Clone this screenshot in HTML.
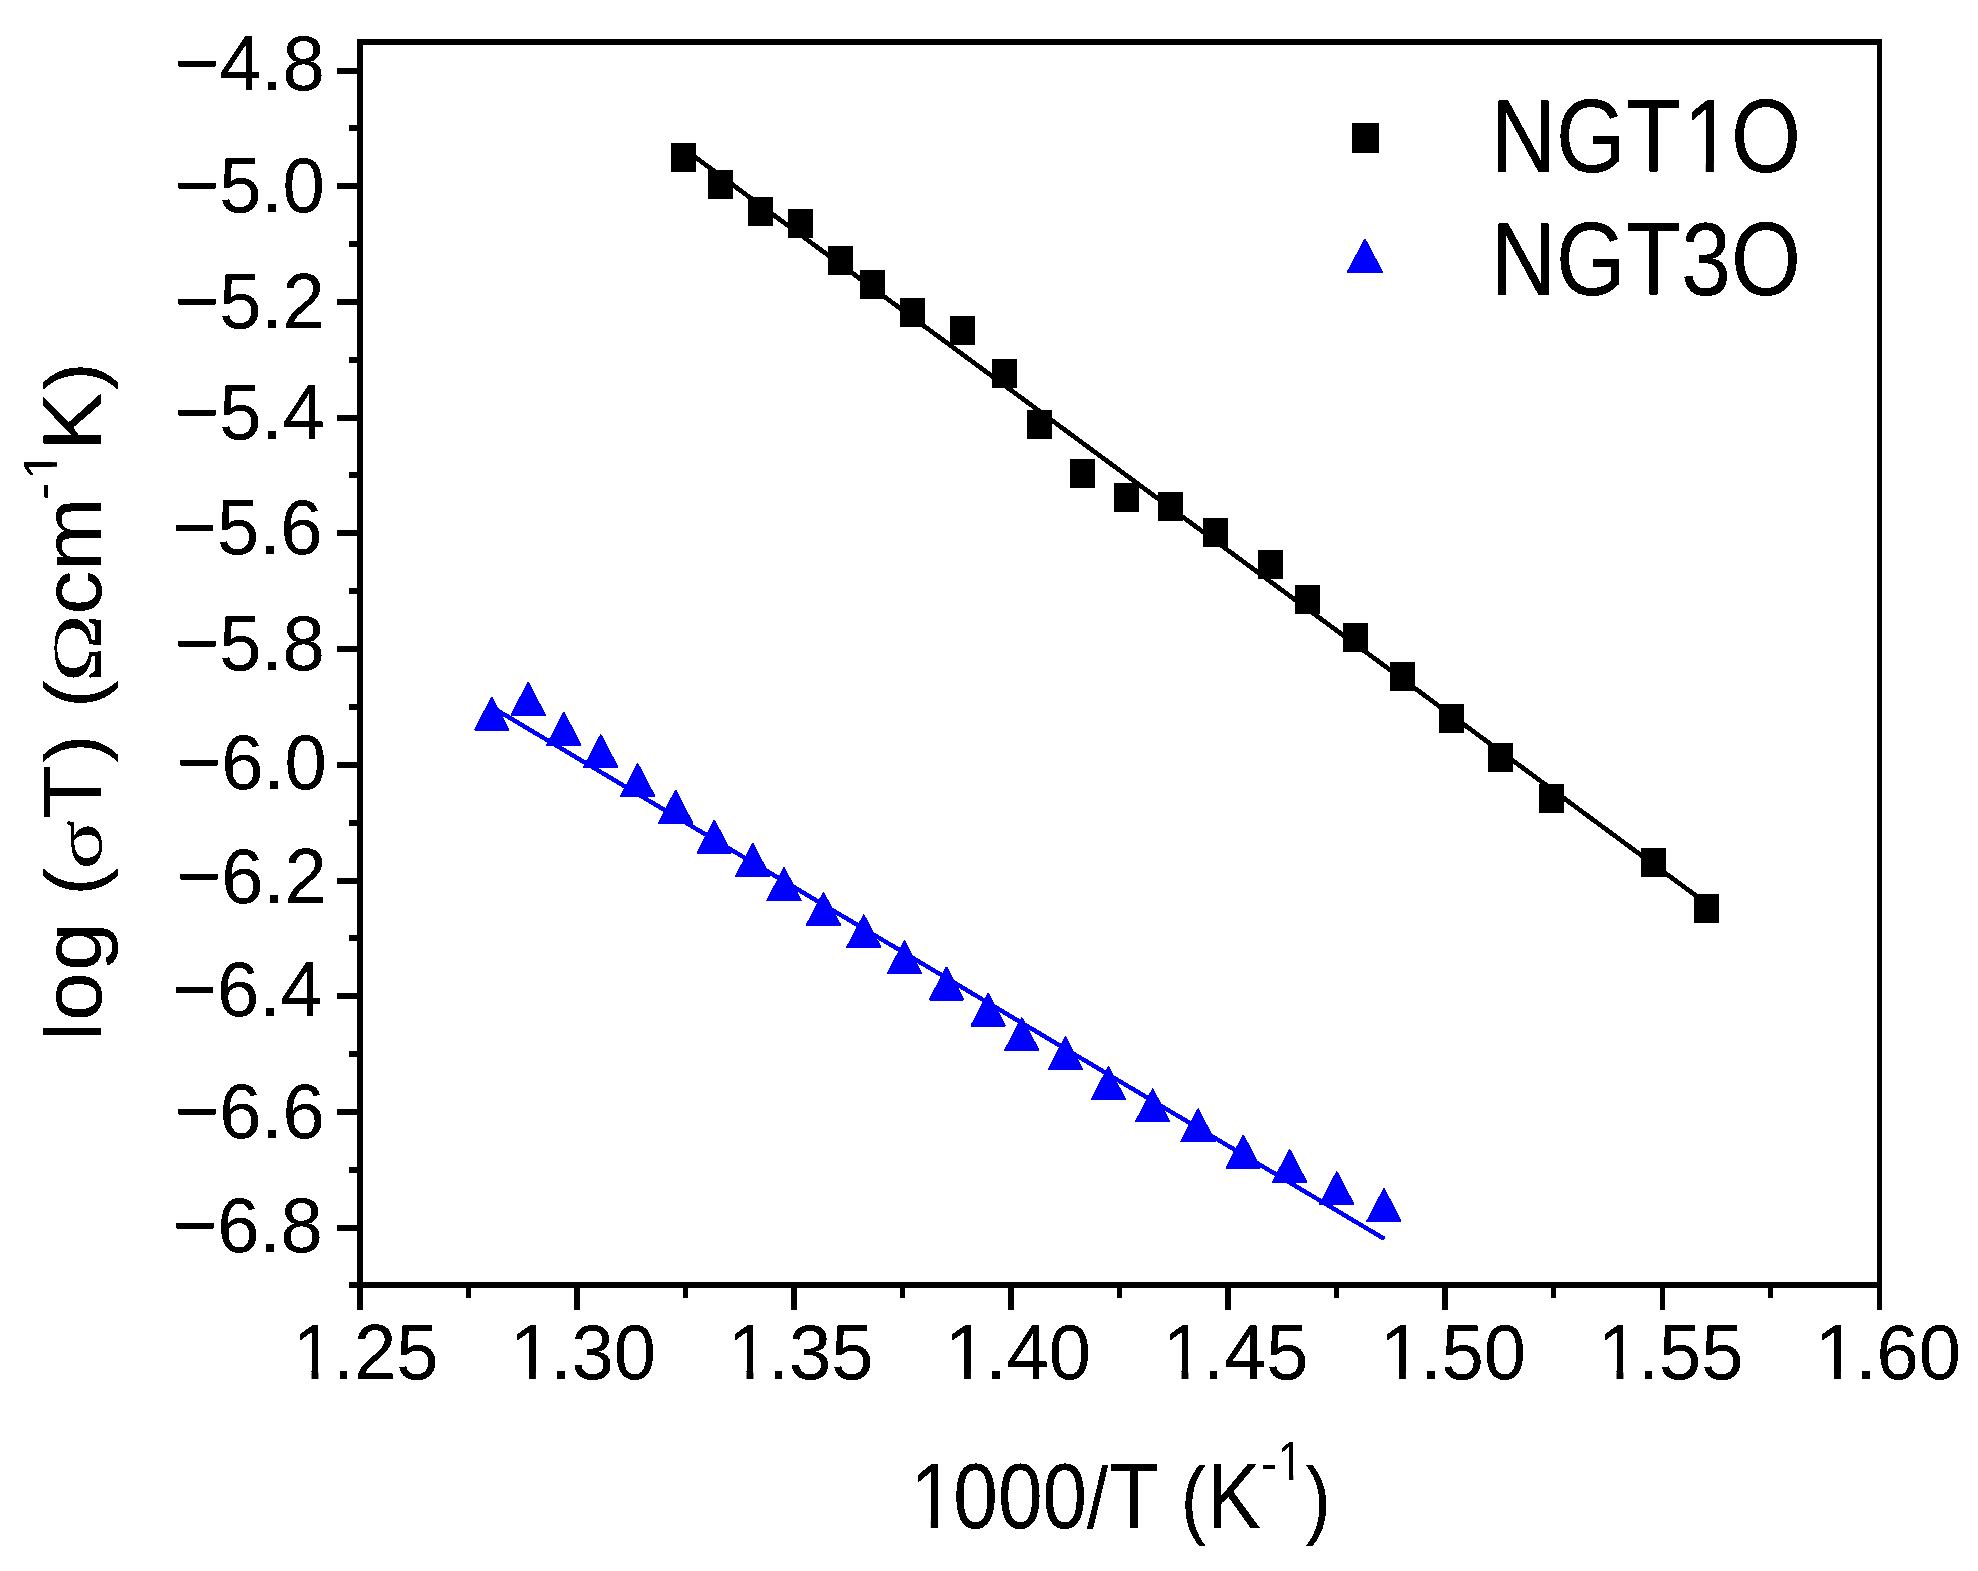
<!DOCTYPE html>
<html lang="en">
<head>
<meta charset="utf-8">
<title>log (σT) vs 1000/T</title>
<style>
html,body{margin:0;padding:0;background:#fff;}
body{width:1978px;height:1571px;overflow:hidden;}
svg{display:block;}
text{white-space:pre;font-kerning:none;font-size:100px;fill:#000;}
svg{font-family:"Liberation Sans", sans-serif;}
</style>
</head>
<body>
<svg width="1978" height="1571" viewBox="0 0 1978 1571">
<defs><g id="nofoot" fill="#fff"><rect x="5" y="-9" width="20.05" height="11"/><rect x="34.1" y="-9" width="19" height="11"/></g><filter id="crisp" filterUnits="userSpaceOnUse" x="0" y="0" width="1978" height="1571" color-interpolation-filters="sRGB"><feComponentTransfer><feFuncA type="discrete" tableValues="0 0 1 1 1"/></feComponentTransfer></filter></defs>
<rect x="0" y="0" width="1978" height="1571" fill="#fff"/>
<g fill="#000" shape-rendering="crispEdges">
<rect x="357" y="39" width="6" height="1249"/>
<rect x="1877" y="39" width="5" height="1249"/>
<rect x="357" y="39" width="1525" height="6"/>
<rect x="357" y="1282" width="1525" height="6"/>
<rect x="337" y="68" width="20" height="6"/>
<rect x="337" y="183" width="20" height="6"/>
<rect x="337" y="299" width="20" height="6"/>
<rect x="337" y="415" width="20" height="6"/>
<rect x="337" y="530" width="20" height="6"/>
<rect x="337" y="646" width="20" height="6"/>
<rect x="337" y="762" width="20" height="6"/>
<rect x="337" y="878" width="20" height="6"/>
<rect x="337" y="993" width="20" height="6"/>
<rect x="337" y="1109" width="20" height="6"/>
<rect x="337" y="1225" width="20" height="6"/>
<rect x="349" y="125" width="8" height="6"/>
<rect x="349" y="241" width="8" height="6"/>
<rect x="349" y="357" width="8" height="6"/>
<rect x="349" y="472" width="8" height="6"/>
<rect x="349" y="588" width="8" height="6"/>
<rect x="349" y="704" width="8" height="6"/>
<rect x="349" y="820" width="8" height="6"/>
<rect x="349" y="935" width="8" height="6"/>
<rect x="349" y="1051" width="8" height="6"/>
<rect x="349" y="1167" width="8" height="6"/>
<rect x="349" y="1282" width="8" height="6"/>
<rect x="357" y="1288" width="6" height="22"/>
<rect x="466" y="1288" width="5" height="10"/>
<rect x="574" y="1288" width="6" height="22"/>
<rect x="683" y="1288" width="5" height="10"/>
<rect x="791" y="1288" width="6" height="22"/>
<rect x="900" y="1288" width="5" height="10"/>
<rect x="1008" y="1288" width="6" height="22"/>
<rect x="1117" y="1288" width="5" height="10"/>
<rect x="1225" y="1288" width="6" height="22"/>
<rect x="1334" y="1288" width="5" height="10"/>
<rect x="1442" y="1288" width="6" height="22"/>
<rect x="1551" y="1288" width="5" height="10"/>
<rect x="1660" y="1288" width="5" height="22"/>
<rect x="1768" y="1288" width="5" height="10"/>
<rect x="1877" y="1288" width="5" height="22"/>
</g>
<line x1="683.4" y1="148.4" x2="1706" y2="903.1" stroke="#000" stroke-width="4.7" shape-rendering="crispEdges"/>
<line x1="491.8" y1="707.1" x2="1384.3" y2="1238.9" stroke="#00f" stroke-width="4.4" shape-rendering="crispEdges"/>
<g fill="#000" shape-rendering="crispEdges">
<rect x="671" y="143" width="25" height="29"/>
<rect x="708" y="170" width="25" height="29"/>
<rect x="748" y="197" width="25" height="29"/>
<rect x="788" y="209" width="25" height="29"/>
<rect x="828" y="246" width="25" height="29"/>
<rect x="860" y="270" width="25" height="29"/>
<rect x="900" y="298" width="25" height="29"/>
<rect x="950" y="316" width="25" height="29"/>
<rect x="992" y="359" width="25" height="29"/>
<rect x="1027" y="410" width="25" height="29"/>
<rect x="1070" y="459" width="25" height="29"/>
<rect x="1114" y="483" width="25" height="29"/>
<rect x="1158" y="492" width="25" height="29"/>
<rect x="1203" y="518" width="25" height="29"/>
<rect x="1258" y="550" width="25" height="29"/>
<rect x="1295" y="585" width="25" height="29"/>
<rect x="1343" y="623" width="25" height="29"/>
<rect x="1390" y="662" width="25" height="29"/>
<rect x="1439" y="704" width="25" height="29"/>
<rect x="1488" y="743" width="25" height="29"/>
<rect x="1539" y="784" width="25" height="29"/>
<rect x="1641" y="848" width="25" height="29"/>
<rect x="1694" y="894" width="25" height="29"/>
<rect x="1352" y="123" width="27" height="30"/>
</g>
<g fill="#00f" stroke="#00f" stroke-width="2" stroke-linejoin="round" shape-rendering="crispEdges">
<polygon points="491.8,697.7 475.15,729.65 508.45,729.65"/>
<polygon points="528.2,683 511.55,714.95 544.85,714.95"/>
<polygon points="563.9,713 547.25,744.95 580.55,744.95"/>
<polygon points="600.8,735.2 584.15,767.15 617.45,767.15"/>
<polygon points="637.7,764.2 621.05,796.15 654.35,796.15"/>
<polygon points="675.6,790.9 658.95,822.85 692.25,822.85"/>
<polygon points="714.3,820.7 697.65,852.65 730.95,852.65"/>
<polygon points="752.8,844.1 736.15,876.05 769.45,876.05"/>
<polygon points="784.1,868.3 767.45,900.25 800.75,900.25"/>
<polygon points="823.5,893 806.85,924.95 840.15,924.95"/>
<polygon points="863.8,915.4 847.15,947.35 880.45,947.35"/>
<polygon points="904.5,941.4 887.85,973.35 921.15,973.35"/>
<polygon points="946.5,967.6 929.85,999.55 963.15,999.55"/>
<polygon points="988.2,993.6 971.55,1025.55 1004.85,1025.55"/>
<polygon points="1021.8,1018.3 1005.15,1050.25 1038.45,1050.25"/>
<polygon points="1065.4,1037.3 1048.75,1069.25 1082.05,1069.25"/>
<polygon points="1108.4,1067.4 1091.75,1099.35 1125.05,1099.35"/>
<polygon points="1152.7,1089.5 1136.05,1121.45 1169.35,1121.45"/>
<polygon points="1198,1109.4 1181.35,1141.35 1214.65,1141.35"/>
<polygon points="1243.3,1135.6 1226.65,1167.55 1259.95,1167.55"/>
<polygon points="1289.7,1150.1 1273.05,1182.05 1306.35,1182.05"/>
<polygon points="1336.8,1172.3 1320.15,1204.25 1353.45,1204.25"/>
<polygon points="1384,1189.1 1367.35,1221.05 1400.65,1221.05"/>
<polygon points="1365,239.8 1347.9,271.9 1382,271.9"/>
</g>
<g filter="url(#crisp)">
<text transform="translate(174.77,90) scale(0.7600,0.7860)"><tspan x="0">−4.8</tspan></text>
<text transform="translate(174.77,212.1) scale(0.7600,0.7860)"><tspan x="0">−5.0</tspan></text>
<text transform="translate(174.87,327.9) scale(0.7600,0.7860)"><tspan x="0">−5.2</tspan></text>
<text transform="translate(174.87,439) scale(0.7600,0.7860)"><tspan x="0">−5.4</tspan></text>
<text transform="translate(172.57,553.8) scale(0.7600,0.7860)"><tspan x="0">−5.6</tspan></text>
<text transform="translate(174.87,669.7) scale(0.7600,0.7860)"><tspan x="0">−5.8</tspan></text>
<text transform="translate(176.87,788.7) scale(0.7600,0.7860)"><tspan x="0">−6.0</tspan></text>
<text transform="translate(176.87,902.8) scale(0.7600,0.7860)"><tspan x="0">−6.2</tspan></text>
<text transform="translate(172.57,1015.6) scale(0.7600,0.7860)"><tspan x="0">−6.4</tspan></text>
<text transform="translate(174.87,1137.8) scale(0.7600,0.7860)"><tspan x="0">−6.6</tspan></text>
<text transform="translate(172.77,1252) scale(0.7600,0.7860)"><tspan x="0">−6.8</tspan></text>
<text transform="translate(290.6,1379) scale(0.7600,0.7860)"><tspan x="2.5">1</tspan><tspan x="55.62">.25</tspan></text>
<use href="#nofoot" transform="translate(290.6,1379) scale(0.7600,0.7860) translate(2.5,0) scale(1)"/>
<text transform="translate(508.1,1379) scale(0.7600,0.7860)"><tspan x="2.5">1</tspan><tspan x="55.62">.30</tspan></text>
<use href="#nofoot" transform="translate(508.1,1379) scale(0.7600,0.7860) translate(2.5,0) scale(1)"/>
<text transform="translate(725.6,1379) scale(0.7600,0.7860)"><tspan x="2.5">1</tspan><tspan x="55.62">.35</tspan></text>
<use href="#nofoot" transform="translate(725.6,1379) scale(0.7600,0.7860) translate(2.5,0) scale(1)"/>
<text transform="translate(943.1,1379) scale(0.7600,0.7860)"><tspan x="2.5">1</tspan><tspan x="55.62">.40</tspan></text>
<use href="#nofoot" transform="translate(943.1,1379) scale(0.7600,0.7860) translate(2.5,0) scale(1)"/>
<text transform="translate(1160.6,1379) scale(0.7600,0.7860)"><tspan x="2.5">1</tspan><tspan x="55.62">.45</tspan></text>
<use href="#nofoot" transform="translate(1160.6,1379) scale(0.7600,0.7860) translate(2.5,0) scale(1)"/>
<text transform="translate(1378.1,1379) scale(0.7600,0.7860)"><tspan x="2.5">1</tspan><tspan x="55.62">.50</tspan></text>
<use href="#nofoot" transform="translate(1378.1,1379) scale(0.7600,0.7860) translate(2.5,0) scale(1)"/>
<text transform="translate(1595.6,1379) scale(0.7600,0.7860)"><tspan x="2.5">1</tspan><tspan x="55.62">.55</tspan></text>
<use href="#nofoot" transform="translate(1595.6,1379) scale(0.7600,0.7860) translate(2.5,0) scale(1)"/>
<text transform="translate(1813.1,1379) scale(0.7600,0.7860)"><tspan x="2.5">1</tspan><tspan x="55.62">.60</tspan></text>
<use href="#nofoot" transform="translate(1813.1,1379) scale(0.7600,0.7860) translate(2.5,0) scale(1)"/>
<text transform="translate(1491,172) scale(0.9000,1.0450)"><tspan x="0">NGT</tspan><tspan x="213.58">1</tspan><tspan x="266.7">O</tspan></text>
<use href="#nofoot" transform="translate(1491,172) scale(0.9000,1.0450) translate(213.58,0) scale(1)"/>
<text transform="translate(1491,294.9) scale(0.9000,1.0450)"><tspan x="0">NGT3O</tspan></text>
<text transform="translate(908.7,1527.8) scale(0.8020,0.9270)"><tspan x="2.5" y="0">1</tspan><tspan x="55.62" y="0">000</tspan><tspan x="222.46" y="0" font-size="94.93">/</tspan><tspan x="250.25" y="0">T </tspan><tspan x="339.11" y="0" font-size="94.93">(</tspan><tspan x="372.41" y="0">K</tspan><tspan x="439.15" y="-49.73" font-size="59.12">-</tspan><tspan x="459.43" y="-51.78" font-size="59.12">1</tspan><tspan x="494.68" y="0" font-size="94.93">)</tspan></text>
<use href="#nofoot" transform="translate(908.7,1527.8) scale(0.8020,0.9270) translate(2.5,0) scale(1)"/>
<use href="#nofoot" transform="translate(908.7,1527.8) scale(0.8020,0.9270) translate(459.43,-51.78) scale(0.59)"/>
<text transform="translate(100.7,1040.9) rotate(-90) scale(0.8760,0.8300)"><tspan x="0" y="0" font-size="95.78">l</tspan><tspan x="22.63" y="0">o</tspan><tspan x="79.71" y="0">g </tspan><tspan x="165.84" y="0" font-size="95.78">(</tspan><tspan x="195.55" y="0" font-size="79.47" font-family='"Liberation Serif", serif' textLength="56.6" lengthAdjust="spacingAndGlyphs">σ</tspan><tspan x="253.46" y="0">T</tspan><tspan x="317.91" y="0" font-size="95.78">) </tspan><tspan x="379.99" y="0" font-size="95.78">(</tspan><tspan x="409.55" y="0" font-size="84.25" font-family='"Liberation Serif", serif' textLength="77.59" lengthAdjust="spacingAndGlyphs">Ω</tspan><tspan x="486.62" y="0">cm</tspan><tspan x="617.74" y="-50.6" font-size="58.31">-</tspan><tspan x="640.88" y="-53.01" font-size="58.31">1</tspan><tspan x="673.65" y="0">K</tspan><tspan x="742.68" y="0" font-size="95.78">)</tspan></text>
<use href="#nofoot" transform="translate(100.7,1040.9) rotate(-90) scale(0.8760,0.8300) translate(640.88,-53.01) scale(0.58)"/>
</g>
</svg>
</body>
</html>
